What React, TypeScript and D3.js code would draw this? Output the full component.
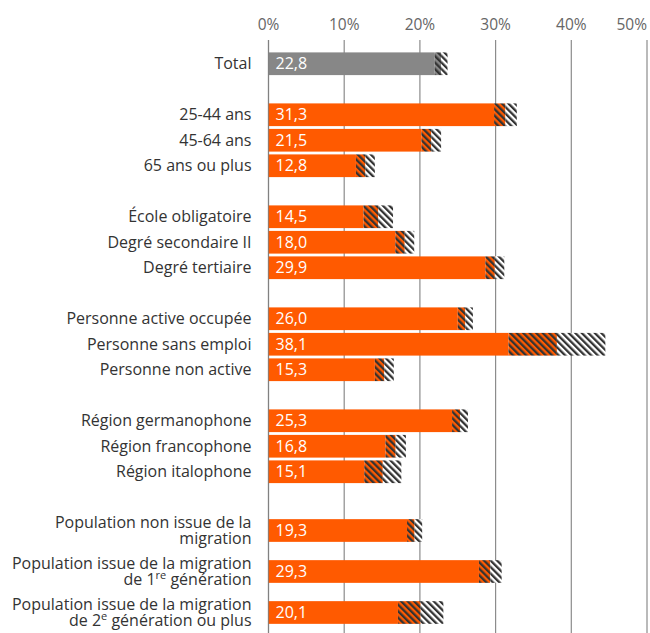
import React from "react";
import * as d3 from "d3";

const categories = [
  "Total",
  "25-44 ans",
  "45-64 ans",
  "65 ans ou plus",
  "École obligatoire",
  "Degré secondaire II",
  "Degré tertiaire",
  "Personne active occupée",
  "Personne sans emploi",
  "Personne non active",
  "Région germanophone",
  "Région francophone",
  "Région italophone",
  "Population non issue de la|migration",
  "Population issue de la migration|de 1^re génération",
  "Population issue de la migration|de 2^e génération ou plus",
];
const groups = [0, 1, 1, 1, 2, 2, 2, 3, 3, 3, 4, 4, 4, 5, 5, 5];
const values = [22.8, 31.3, 21.5, 12.8, 14.5, 18.0, 29.9, 26.0, 38.1, 15.3, 25.3, 16.8, 15.1, 19.3, 29.3, 20.1];
const ciHalf = [0.85, 1.5, 1.3, 1.25, 1.95, 1.25, 1.25, 1.0, 6.4, 1.25, 1.05, 1.35, 2.45, 1.0, 1.5, 3.0];
const tickValues = [0, 10, 20, 30, 40, 50];
const tickLabels = ["0%", "10%", "20%", "30%", "40%", "50%"];

const W = 650;
const H = 633;
const ORANGE = "#ff5a00";
const GRAY = "#878787";
const DARK = "#333333";
const FONT = "'Open Sans', 'Noto Sans', sans-serif";

const x = d3.scaleLinear().domain([0, 50]).range([268.5, 647]);

const ROW1 = 25.5;
const ROW2 = 41;
const GAP = 25.5;
const TOP = 51;
const BAR_H = 22.7;

function layout() {
  const centers: number[] = [];
  let y = TOP;
  categories.forEach((c, i) => {
    if (i > 0 && groups[i] !== groups[i - 1]) y += GAP;
    const h = c.includes("|") ? ROW2 : ROW1;
    centers.push(y + h / 2);
    y += h;
  });
  return centers;
}

function renderLine(line: string, key: string) {
  const parts = line.split(/\^(\S+)/);
  return parts.map((p, j) =>
    j % 2 === 1 ? (
      <tspan key={key + j} fontSize={11} dy={-6}>
        {p}
      </tspan>
    ) : j > 0 ? (
      <tspan key={key + j} dy={6}>
        {p}
      </tspan>
    ) : (
      <tspan key={key + j}>{p}</tspan>
    )
  );
}

export default function App() {
  const centers = layout();
  return (
    <svg
      width={W}
      height={H}
      style={{ position: "absolute", left: 0, top: 0, display: "block", background: "#fff" }}
      fontFamily={FONT}
    >
      <defs>
        {[
          ["hOrange", ORANGE],
          ["hGray", GRAY],
          ["hWhite", "#ffffff"],
        ].map(([id, bg]) => (
          <pattern
            key={id}
            id={id}
            patternUnits="userSpaceOnUse"
            width={4.6}
            height={4.6}
            patternTransform="rotate(-45)"
          >
            <rect width={4.6} height={4.6} fill={bg} />
            <rect width={2.3} height={4.6} fill={DARK} />
          </pattern>
        ))}
      </defs>
      {/* ticks */}
      {tickValues.map((t, i) => (
        <g key={t}>
          <line x1={x(t)} x2={x(t)} y1={40} y2={H} stroke="#8c8c8c" strokeWidth={1.2} />
          <text
            x={x(t)}
            y={30}
            textAnchor={i === tickValues.length - 1 ? "end" : "middle"}
            fontSize={15.5}
            fill="#666"
          >
            {tickLabels[i]}
          </text>
        </g>
      ))}
      {/* bars */}
      {values.map((v, i) => {
        const cy = centers[i];
        const y0 = cy - BAR_H / 2;
        const lo = v - ciHalf[i];
        const hi = v + ciHalf[i];
        const isTotal = i === 0;
        return (
          <g key={i}>
            <rect x={x(0)} y={y0} width={x(lo) - x(0)} height={BAR_H} fill={isTotal ? GRAY : ORANGE} />
            <rect
              x={x(lo)}
              y={y0}
              width={x(v) - x(lo)}
              height={BAR_H}
              fill={isTotal ? "url(#hGray)" : "url(#hOrange)"}
            />
            <rect x={x(v)} y={y0} width={x(hi) - x(v)} height={BAR_H} fill="url(#hWhite)" />
            <text x={x(0) + 7} y={cy + 5.5} fontSize={16} fill="#fff">
              {v.toFixed(1).replace(".", ",")}
            </text>
          </g>
        );
      })}
      <line x1={x(0)} x2={x(0)} y1={40} y2={H} stroke="#7a7a7a" strokeWidth={1.2} opacity={0.6} />
      {/* category labels */}
      {categories.map((c, i) => {
        const lines = c.split("|");
        const cy = centers[i];
        const lh = 16.5;
        const start = cy + 5.5 - ((lines.length - 1) * lh) / 2;
        return (
          <text key={i} textAnchor="end" fontSize={16} fill="#333">
            {lines.map((ln, k) => (
              <tspan key={k} x={251.5} y={start + k * lh}>
                {renderLine(ln, `${i}-${k}-`)}
              </tspan>
            ))}
          </text>
        );
      })}
    </svg>
  );
}
